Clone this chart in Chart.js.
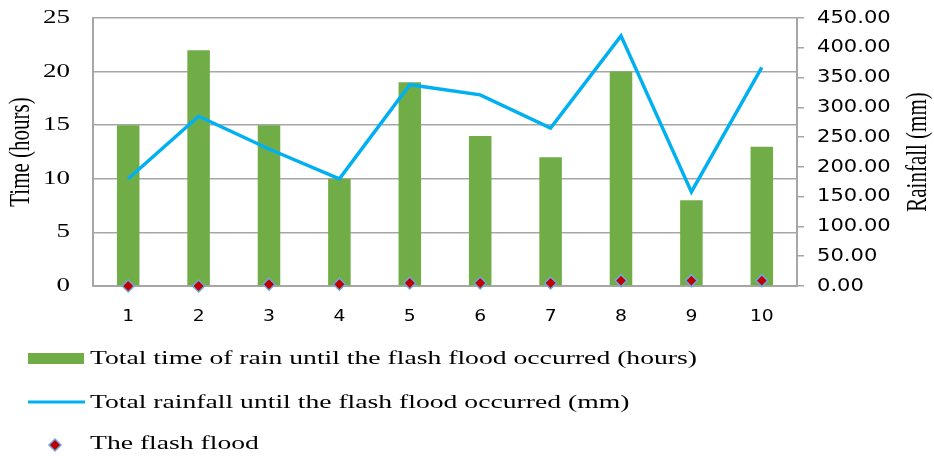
<!DOCTYPE html>
<html>
<head>
<meta charset="utf-8">
<script src="https://cdn.jsdelivr.net/npm/chart.js@4/dist/chart.umd.min.js"></script>
<style>
  html, body { margin: 0; padding: 0; background: #fff; }
  #wrap { position: relative; width: 934px; height: 457px; }
</style>
</head>
<body>
<div id="wrap"><canvas id="c" width="934" height="457"></canvas></div>
<script>
// Flood events 1..10
const events = ['1', '2', '3', '4', '5', '6', '7', '8', '9', '10'];
// Total time of rain until the flash flood occurred (hours) - left axis
const rainHours = [15, 22, 15, 10, 19, 14, 12, 20, 8, 13];
// Total rainfall until the flash flood occurred (mm) - right axis
const rainfallMm = [180, 285, 230, 180, 338, 321, 265, 420, 158, 367];
// Flash flood markers, plotted on the rainfall axis
const floodMarks = [0, 0, 3, 3, 5, 5, 5, 9, 9, 9];

const seriesNames = [
  'Total time of rain until the flash flood occurred (hours)',
  'Total rainfall until the flash flood occurred (mm)',
  'The flash flood'
];
const axisTitles = ['Time (hours)', 'Rainfall (mm)'];

const GREEN = '#70AD47';
const BLUE = '#00B0F0';
const RED = '#C00000';
const MARK_EDGE = '#6FA8DC';
const GRID = '#A6A6A6';
const SERIF = '"Liberation Serif", "Times New Roman", serif';
const SANS = '"DejaVu Sans", Verdana, sans-serif';
const WIDE = 1.42;      // horizontal widening of serif text
const SANS_WIDE = 1.17; // horizontal widening of sans text

const mmFormat = v => Number(v).toFixed(2);

// fillText with a horizontal stretch
function wideText(ctx, text, x, y, sx, align) {
  ctx.save();
  ctx.translate(x, y);
  ctx.scale(sx, 1);
  ctx.textAlign = align;
  ctx.fillText(text, 0, 0);
  ctx.restore();
}

// vertical title reading bottom to top, widened across its baseline
function sideTitle(ctx, text, x, y, sy) {
  ctx.save();
  ctx.translate(x, y);
  ctx.rotate(-Math.PI / 2);
  ctx.scale(1, sy);
  ctx.textAlign = 'center';
  ctx.fillText(text, 0, 0);
  ctx.restore();
}

function diamond(ctx, x, y, r) {
  ctx.save();
  ctx.beginPath();
  ctx.moveTo(x, y - r);
  ctx.lineTo(x + r, y);
  ctx.lineTo(x, y + r);
  ctx.lineTo(x - r, y);
  ctx.closePath();
  ctx.fillStyle = RED;
  ctx.fill();
  ctx.strokeStyle = MARK_EDGE;
  ctx.lineWidth = 1.5;
  ctx.stroke();
  ctx.restore();
}

// Tick labels, axis titles and the stacked legend
const extrasPlugin = {
  id: 'extras',
  afterDraw(chart) {
    const ctx = chart.ctx;
    const area = chart.chartArea;
    const midY = (area.top + area.bottom) / 2;
    const { x, y, y1 } = chart.scales;
    ctx.save();
    ctx.fillStyle = '#000';
    ctx.textBaseline = 'middle';

    // left ticks (hours)
    ctx.font = '19px ' + SERIF;
    y.ticks.forEach(t => wideText(ctx, String(t.value), 70, y.getPixelForValue(t.value), WIDE, 'right'));

    // right ticks (mm)
    ctx.font = '18px ' + SANS;
    y1.ticks.forEach(t => wideText(ctx, mmFormat(t.value), 817, y1.getPixelForValue(t.value), SANS_WIDE, 'left'));

    // category ticks
    ctx.font = '16px ' + SANS;
    x.ticks.forEach((t, i) => wideText(ctx, x.getLabelForValue(t.value), x.getPixelForTick(i), 317, SANS_WIDE, 'center'));

    // axis titles
    ctx.font = '21px ' + SERIF;
    sideTitle(ctx, axisTitles[0], 21, midY, WIDE);
    sideTitle(ctx, axisTitles[1], 918, midY, WIDE);

    // legend
    const rows = [358, 402, 443];
    const textX = 90;
    ctx.font = '18px ' + SERIF;
    const legendWide = 607 / ctx.measureText(seriesNames[0]).width;
    ctx.fillStyle = GREEN;
    ctx.fillRect(28, rows[0] - 5, 56, 11);
    ctx.strokeStyle = BLUE;
    ctx.lineWidth = 3;
    ctx.beginPath();
    ctx.moveTo(28, rows[1]);
    ctx.lineTo(85, rows[1]);
    ctx.stroke();
    diamond(ctx, 55, rows[2] + 2, 6);
    ctx.fillStyle = '#000';
    seriesNames.forEach((name, i) => wideText(ctx, name, textX, rows[i] + 1, legendWide, 'left'));
    ctx.restore();
  }
};

new Chart(document.getElementById('c'), {
  data: {
    labels: events,
    datasets: [
      {
        type: 'scatter',
        label: seriesNames[2],
        data: floodMarks,
        yAxisID: 'y1',
        showLine: false,
        pointStyle: 'rectRot',
        pointRadius: 6,
        pointBackgroundColor: RED,
        pointBorderColor: MARK_EDGE,
        pointBorderWidth: 1.5,
        clip: false,
        order: 1
      },
      {
        type: 'line',
        label: seriesNames[1],
        data: rainfallMm,
        yAxisID: 'y1',
        borderColor: BLUE,
        borderWidth: 3.5,
        pointRadius: 0,
        tension: 0,
        order: 2
      },
      {
        type: 'bar',
        label: seriesNames[0],
        data: rainHours,
        yAxisID: 'y',
        backgroundColor: GREEN,
        barPercentage: 0.32,
        categoryPercentage: 1,
        order: 3
      }
    ]
  },
  options: {
    responsive: false,
    animation: false,
    layout: { padding: { top: 18, bottom: 131, left: 0, right: 0 } },
    plugins: { legend: { display: false }, tooltip: { enabled: false } },
    scales: {
      x: {
        type: 'category',
        offset: true,
        grid: { display: false },
        border: { color: GRID, width: 2 },
        ticks: { display: false },
        afterFit: s => { s.height = 40; }
      },
      y: {
        position: 'left',
        min: 0, max: 25,
        ticks: { stepSize: 5, display: false },
        grid: { color: GRID, lineWidth: 1.5, drawTicks: false },
        border: { color: GRID, width: 2 },
        afterFit: s => { s.width = 93; }
      },
      y1: {
        position: 'right',
        min: 0, max: 450,
        ticks: { stepSize: 50, display: false, callback: mmFormat },
        grid: { drawOnChartArea: false, color: GRID, lineWidth: 1.5, tickLength: 7 },
        border: { color: GRID, width: 2 },
        afterFit: s => { s.width = 137; }
      }
    }
  },
  plugins: [extrasPlugin]
});
</script>
</body>
</html>
